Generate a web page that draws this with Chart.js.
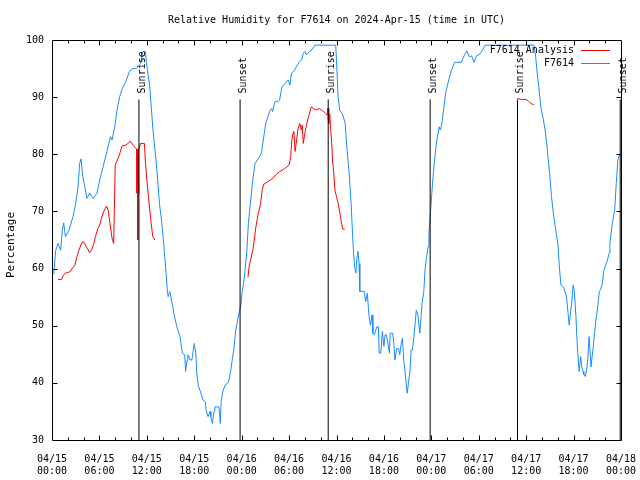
<!DOCTYPE html>
<html lang="en">
<head>
<meta charset="UTF-8">
<title>Relative Humidity for F7614</title>
<script src="https://cdn.jsdelivr.net/npm/chart.js"></script>
<style>
    body { margin: 0; background: #fff; }
    canvas { display: block; }
</style>
</head>
<body>
<canvas id="rhChart" width="640" height="480"></canvas>
<script>
    // x values are hours since 2024-04-15 00:00 UTC
    const xTickLabels = ['04/15 00:00', '04/15 06:00', '04/15 12:00', '04/15 18:00',
                         '04/16 00:00', '04/16 06:00', '04/16 12:00', '04/16 18:00',
                         '04/17 00:00', '04/17 06:00', '04/17 12:00', '04/17 18:00', '04/18 00:00'];

    const sunHours  = [11.0, 23.8, 34.95, 47.85, 58.9, 71.9];
    const sunLabels = ['Sunrise', 'Sunset', 'Sunrise', 'Sunset', 'Sunrise', 'Sunset'];
    const sunLineTop = 89.6;

    // station observations [hour, %]
    const stationRH = [
        [0.22,59],[0.47,63.2],[0.76,64.4],[1.1,63.2],[1.3,66.7],[1.48,68],[1.7,65.6],[2.15,66.7],[2.66,69.1],[3.0,71.4],
        [3.3,74.3],[3.5,78.4],[3.67,79.2],[3.9,76.1],[4.43,72.3],[4.77,73.2],[5.2,72.3],[5.7,73.2],[6.04,75.5],[6.46,77.8],
        [6.9,80.2],[7.4,83.1],[7.6,82.5],[7.94,84.8],[8.23,87.75],[8.57,90.1],[8.9,91.5],[9.33,92.7],[9.8,94.5],[10.25,95],
        [10.67,95],[11.2,95.9],[11.5,98],[11.8,98],[11.95,96],[12.37,91.8],[12.78,84.25],[13.2,78.4],[13.6,71.4],[13.85,68.5],
        [14.1,65],[14.4,59.75],[14.6,56],[14.7,55.1],[14.9,56],[15.2,53.9],[15.5,51.6],[15.8,49.8],[16.2,48.1],[16.5,45.2],
        [16.8,44.9],[16.9,42],[17.1,44],[17.2,44.9],[17.5,44],[17.7,44],[18.0,46.9],[18.2,45.2],[18.3,42],[18.5,39.6],
        [18.8,38.4],[19.1,37],[19.4,36.7],[19.5,35.25],[19.75,34.1],[20.0,35],[20.1,34.1],[20.3,32.9],[20.5,35],[20.6,35.8],
        [21.1,35.8],[21.2,34.7],[21.3,32.9],[21.4,36.7],[21.6,38.4],[21.9,39.6],[22.2,39.9],[22.4,40.5],[22.6,42],[22.8,44],
        [23.0,45.75],[23.25,49.25],[23.5,51],[23.7,52.45],[23.9,53.6],[24.05,55.7],[24.25,57.4],[24.45,60],[24.65,63],[24.85,67.9],
        [25.1,71.4],[25.4,75.5],[25.7,78.4],[26.0,79],[26.5,80.2],[26.8,83.1],[27.05,85.4],[27.6,87.75],[27.8,88],[27.9,87.5],
        [28.2,89.2],[28.6,89.2],[28.8,89.5],[29.1,91.8],[29.5,92.4],[29.9,93],[30.1,92.1],[30.3,94.2],[30.6,94.5],[30.9,95.3],
        [31.3,96.2],[31.6,96.5],[31.8,97.7],[32.0,98],[32.2,97.4],[32.6,98],[32.9,98.3],[33.25,99.1],[35.9,99.1],[36.0,96.5],
        [36.2,90.1],[36.4,87.75],[36.8,86.9],[37.1,85.4],[37.3,81.3],[37.6,76.7],[37.85,71.4],[38.1,64],[38.3,60.2],[38.44,59.2],
        [38.6,62.2],[38.7,63],[38.85,60.9],[38.95,56],[39.5,56],[39.7,54.2],[39.9,55.7],[40.1,51.9],[40.3,50.1],[40.5,51.9],
        [40.6,48.7],[40.8,48.4],[41.1,49.8],[41.3,49.8],[41.4,45.2],[41.6,45.2],[41.8,49],[42.0,46.4],[42.15,48.4],[42.3,48.4],
        [42.45,47.5],[42.7,45.2],[42.8,48.7],[43.1,48.7],[43.25,47],[43.4,44],[43.6,46],[43.85,46],[44.0,44.9],[44.2,47],
        [44.35,47.8],[44.5,44],[44.7,41.7],[44.86,39.3],[44.95,38.2],[45.1,39.9],[45.3,42.2],[45.45,45.75],[45.6,45.75],[45.8,48.1],
        [45.95,50.4],[46.1,52.75],[46.3,51.9],[46.55,48.7],[46.7,51.6],[46.85,54.2],[47.05,56],[47.2,59.75],[47.4,62.1],[47.6,63.8],
        [47.7,66.2],[47.9,70],[48.15,74.9],[48.45,79.6],[48.7,82.5],[49.0,84.8],[49.15,84.25],[49.3,85.1],[49.6,88.3],[49.8,90.7],
        [50.2,93],[50.55,94.75],[50.97,96.1],[51.8,96.1],[52.2,97.4],[52.5,98.1],[52.8,97.1],[53.1,97.2],[53.4,96.1],[53.7,97.2],
        [54.1,97.5],[54.5,98.25],[54.8,99.1],[61.0,99.1],[61.2,97.1],[61.4,94.2],[61.6,91.8],[61.85,88.3],[62.1,86.6],[62.4,84.25],
        [62.6,81.9],[62.8,79],[63.0,76.1],[63.2,72.6],[63.5,69.1],[63.75,66.7],[64.05,63.8],[64.2,60.3],[64.4,57.1],[64.7,56.75],
        [64.9,56],[65.1,55.1],[65.3,52.2],[65.45,50.1],[65.6,52.2],[65.8,54.5],[65.95,57.1],[66.1,56],[66.3,51.6],[66.4,48.4],
        [66.5,45.75],[66.7,42],[66.9,44.6],[67.05,42.6],[67.2,42],[67.3,41.4],[67.5,41.1],[67.65,42.3],[67.8,44],[67.95,48.1],
        [68.05,46.4],[68.2,42.8],[68.35,44.6],[68.5,46.4],[68.65,48.7],[68.8,50.7],[68.95,52.2],[69.1,53.9],[69.25,56],[69.4,56.3],
        [69.65,57.4],[69.8,59.5],[70.05,60.6],[70.3,61.5],[70.5,62.7],[70.6,64.4],[70.75,66.2],[70.9,67.9],[71.2,70.25],[71.4,74.9],
        [71.6,79],[71.8,79.9]
    ];

    // analysis [hour, %], null splits the daily runs
    const analysisRH = [
        [0.76,58.1],[1.2,58.1],[1.48,58.9],[1.8,59.3],[2.24,59.4],[2.66,60.2],[2.9,60.6],[3.16,62.1],[3.5,63.6],[3.85,64.7],
        [4.05,64.6],[4.35,63.8],[4.77,62.8],[5.0,63.2],[5.3,64.4],[5.5,65.6],[5.8,67],[6.04,67.6],[6.25,68.8],[6.55,70],
        [6.9,70.95],[7.1,70.25],[7.4,67.3],[7.6,65.3],[7.8,64.4],[7.9,71.1],[8.0,78.1],[8.35,79.3],[8.57,80.1],[8.86,81.45],
        [9.33,81.6],[9.6,81.9],[9.9,82.3],[10.25,81.6],[10.7,80.9],[10.75,73.2],[10.8,80.9],[10.85,65],[10.9,80.9],[10.95,73.2],
        [11.0,80.8],[11.2,81.9],[11.7,81.9],[11.8,79],[12.0,75.5],[12.25,72],[12.5,68.5],[12.75,65.6],[13.0,65],
        null,
        [24.8,58.5],[24.95,60.4],[25.45,63.5],[25.8,67.3],[26.1,69.6],[26.4,71.4],[26.6,73.75],[26.8,74.75],[27.3,75.2],[27.97,75.8],
        [28.3,76.4],[28.8,76.95],[29.45,77.5],[30.0,78.1],[30.2,79.6],[30.35,82.5],[30.5,83.7],[30.6,84],[30.76,80.5],[30.9,81.9],
        [31.1,84.25],[31.35,85.4],[31.55,84.25],[31.65,85.1],[31.8,81.9],[32.0,83.7],[32.2,85.1],[32.4,86.3],[32.6,87.2],[32.8,88.3],
        [33.1,88],[33.45,87.75],[33.8,88],[34.1,87.75],[34.5,87.3],[34.8,86.9],[34.9,88.1],[34.95,86],[35.0,88],[35.05,85.4],
        [35.15,87],[35.25,84.5],[35.4,81.9],[35.5,79],[35.65,76.7],[35.8,73.75],[36.0,72.6],[36.2,71.4],[36.4,70],[36.6,68.2],
        [36.8,66.9],[37.05,66.9],
        null,
        [58.9,89.8],[59.3,89.6],[59.96,89.6],[60.3,89.3],[60.5,89.0],[60.8,88.75],[61.0,88.75]
    ];

    const FONT = 'DejaVu Sans Mono';
    Chart.defaults.font.family = FONT;
    Chart.defaults.font.size = 10;
    Chart.defaults.color = '#000';

    function toPoints(list, gapAt) {
        return list.map((p, i) => p ? { x: p[0], y: p[1] } : { x: gapAt[i], y: null });
    }

    // gap markers sit between the runs
    const gapX = {};
    analysisRH.forEach((p, i) => { if (!p) gapX[i] = (analysisRH[i - 1][0] + analysisRH[i + 1][0]) / 2; });

    const sunPoints = [];
    sunHours.forEach(h => {
        sunPoints.push({ x: h, y: 30 }, { x: h, y: sunLineTop }, { x: h, y: null });
    });

    // box, inward tics, sunrise/sunset labels, y title and legend
    const gnuplotFrame = {
        id: 'gnuplotFrame',
        afterDatasetsDraw(chart) {
            const ctx = chart.ctx;
            const a = chart.chartArea;
            const xs = chart.scales.x, ys = chart.scales.y;
            const L = Math.round(a.left) + 0.5, R = Math.round(a.right) + 0.5;
            const T = Math.round(a.top) + 0.5, B = Math.round(a.bottom) + 0.5;
            ctx.save();
            ctx.strokeStyle = '#000';
            ctx.lineWidth = 1;
            ctx.beginPath();
            ctx.rect(L, T, R - L, B - T);
            for (let h = 2; h < 72; h += 2) {
                const px = Math.round(xs.getPixelForValue(h)) + 0.5;
                const len = h % 6 === 0 ? 5 : 3;
                ctx.moveTo(px, B); ctx.lineTo(px, B - len);
                ctx.moveTo(px, T); ctx.lineTo(px, T + len);
            }
            for (let v = 40; v < 100; v += 10) {
                const py = Math.round(ys.getPixelForValue(v)) + 0.5;
                ctx.moveTo(L, py); ctx.lineTo(L + 5, py);
                ctx.moveTo(R, py); ctx.lineTo(R - 5, py);
            }
            ctx.stroke();

            ctx.fillStyle = '#000';
            ctx.font = '10px "' + FONT + '"';
            ctx.textAlign = 'left';
            ctx.textBaseline = 'alphabetic';
            const labelBottom = ys.getPixelForValue(sunLineTop) - 6;
            sunHours.forEach((h, i) => {
                ctx.save();
                ctx.translate(xs.getPixelForValue(h) + 6, labelBottom);
                ctx.rotate(-Math.PI / 2);
                ctx.fillText(sunLabels[i], 0, 0);
                ctx.restore();
            });

            ctx.save();
            ctx.font = '11px "' + FONT + '"';
            ctx.textAlign = 'center';
            ctx.textBaseline = 'middle';
            ctx.translate(11, (a.top + a.bottom) / 2 + 5);
            ctx.rotate(-Math.PI / 2);
            ctx.fillText('Percentage', 0, 0);
            ctx.restore();

            ctx.font = '10px "' + FONT + '"';
            ctx.textAlign = 'right';
            ctx.textBaseline = 'middle';
            let row = 0;
            chart.data.datasets.forEach(ds => {
                if (!ds.label) return;
                const y = a.top + 10 + row * 13.3;
                ctx.fillText(ds.label, a.right - 47, y);
                ctx.strokeStyle = ds.borderColor;
                ctx.beginPath();
                ctx.moveTo(a.right - 40, Math.round(y) + 0.5);
                ctx.lineTo(a.right - 11, Math.round(y) + 0.5);
                ctx.stroke();
                row++;
            });
            ctx.restore();
        }
    };

    new Chart(document.getElementById('rhChart'), {
        type: 'line',
        data: {
            datasets: [
                {
                    label: 'F7614 Analysis',
                    data: toPoints(analysisRH, gapX),
                    borderColor: '#ff0000',
                    borderWidth: 1,
                    pointRadius: 0,
                    order: 1
                },
                {
                    label: 'F7614',
                    data: toPoints(stationRH, {}),
                    borderColor: '#1a8aff',
                    borderWidth: 1,
                    pointRadius: 0,
                    order: 2
                },
                {
                    label: '',
                    data: sunPoints,
                    borderColor: '#000',
                    borderWidth: 1,
                    pointRadius: 0,
                    order: 0
                }
            ]
        },
        options: {
            responsive: false,
            animation: false,
            events: [],
            layout: { padding: { left: 0, right: 19, top: 0, bottom: 0 } },
            elements: { line: { tension: 0 } },
            plugins: {
                legend: { display: false },
                tooltip: { enabled: false },
                title: {
                    display: true,
                    fullSize: false,
                    text: 'Relative Humidity for F7614 on 2024-Apr-15 (time in UTC)',
                    font: { size: 10, weight: 'normal', lineHeight: 1.2 },
                    color: '#000',
                    padding: { top: 14, bottom: 14 }
                }
            },
            scales: {
                x: {
                    type: 'linear',
                    min: 0,
                    max: 72,
                    grid: { display: false, drawTicks: false },
                    border: { display: false },
                    afterFit: scale => {
                        scale.height = 40;
                        scale.paddingLeft = 0;
                        scale.paddingRight = 0;
                    },
                    ticks: {
                        stepSize: 6,
                        autoSkip: false,
                        maxRotation: 0,
                        padding: 13,
                        font: { size: 10, lineHeight: 1.25 },
                        callback: v => xTickLabels[Math.round(v / 6)].split(' ')
                    }
                },
                y: {
                    min: 30,
                    max: 100,
                    grid: { display: false, drawTicks: false },
                    border: { display: false },
                    afterFit: scale => {
                        scale.width = 52;
                        scale.paddingTop = 0;
                        scale.paddingBottom = 0;
                    },
                    ticks: { stepSize: 10, padding: 8 }
                }
            }
        },
        plugins: [gnuplotFrame]
    });
</script>
</body>
</html>
